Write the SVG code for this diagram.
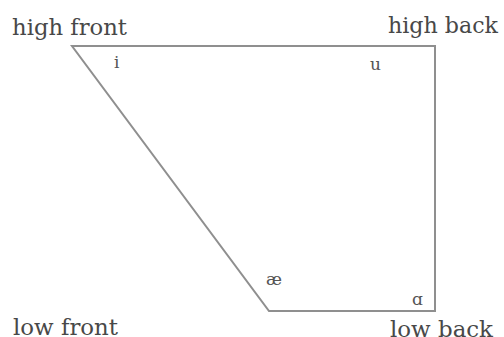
<svg xmlns="http://www.w3.org/2000/svg" width="504" height="337" viewBox="0 0 504 337">
<style>
.lbl{font-family:"DejaVu Serif","Liberation Serif",serif;font-size:22px;fill:#484848}
.v{font-family:"DejaVu Serif","Liberation Serif",serif;font-size:17px;fill:#555}
.edge{fill:none;stroke:#8f8f8f;stroke-width:2}
</style>
<rect width="504" height="337" fill="#fff"/>
<g id="connectors">
<polygon class="edge" points="72,46 435,46 435,311 269,311"/>
</g>
<g id="high-front"><text class="lbl" x="12" y="35" textLength="115" lengthAdjust="spacingAndGlyphs">high front</text></g>
<g id="high-back"><text class="lbl" x="388" y="33" textLength="110" lengthAdjust="spacingAndGlyphs">high back</text></g>
<g id="low-front"><text class="lbl" x="13" y="335" textLength="105" lengthAdjust="spacingAndGlyphs">low front</text></g>
<g id="low-back"><text class="lbl" x="390" y="337" textLength="103" lengthAdjust="spacingAndGlyphs">low back</text></g>
<g id="v-i"><text class="v" x="114" y="68">i</text></g>
<g id="v-u"><text class="v" x="370" y="70">u</text></g>
<g id="v-ae"><text class="v" x="266" y="285">æ</text></g>
<g id="v-a"><text class="v" x="412" y="305">ɑ</text></g>
</svg>
